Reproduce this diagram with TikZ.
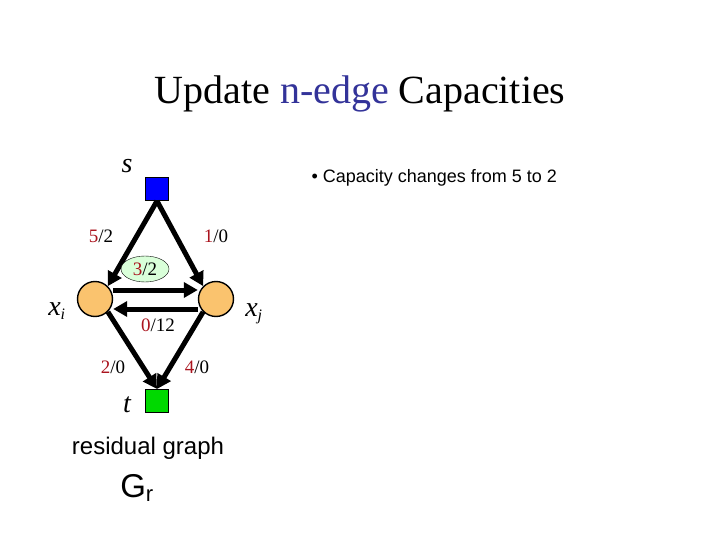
\documentclass[tikz,border=0pt]{standalone}
\usepackage{fontspec}
\setmainfont{Liberation Serif}
\newfontfamily\arial{Liberation Sans}
\usetikzlibrary{arrows.meta,shapes.geometric}
\definecolor{rd}{RGB}{170,20,30}
\definecolor{tb}{RGB}{51,51,153}
\definecolor{orn}{RGB}{250,195,110}
\tikzset{
 edge/.style={line width=5pt,-{Triangle[length=14pt,width=15pt]}},
 lab/.style={font=\fontsize{19}{19}\selectfont},
 vtx/.style={circle,draw,line width=1.4pt,fill=orn,minimum size=35pt,inner sep=0},
 term/.style={rectangle,draw,line width=1pt,minimum size=23pt,inner sep=0},
 var/.style={font=\fontsize{28}{28}\selectfont\itshape}
}
\begin{document}
\begin{tikzpicture}[x=1pt,y=-1pt]
\useasboundingbox (0,0) rectangle (720,540);
\node (title) at (360,94) {\fontsize{40}{40}\selectfont Update \textcolor{tb}{n-edge} Capacities};
\node[anchor=west] (bul) at (308,178) {\arial\fontsize{18}{18}\selectfont • Capacity changes from 5 to 2};
\node[term,fill=blue] (s) at (157,189) {};
\node[term,fill=green!85!black] (t) at (157,401) {};
\node[vtx] (xi) at (95,299) {};
\node[vtx] (xj) at (216,299) {};
\node[var] (sl) at (127,166) {s};
\node[var] (tl) at (127,405) {t};
\node[var] (xil) at (57,311) {x\textsubscript{\fontsize{16}{16}\selectfont i}};
\node[var] (xjl) at (254,314) {x\textsubscript{\fontsize{16}{16}\selectfont j}};
\draw[edge] (s.south) -- (xi.north east);
\draw[edge] (s.south) -- (xj.north west);
\draw[edge] ([yshift=9pt]xi.east) -- ([yshift=9pt]xj.west);
\draw[edge] ([yshift=-10pt]xj.west) -- ([yshift=-10pt]xi.east);
\draw[edge] (xi.south east) -- (t.north);
\draw[edge] (xj.south west) -- (t.north);
\node[lab] (l1) at (101,236) {\textcolor{rd}{5}/2};
\node[lab] (l2) at (216,236) {\textcolor{rd}{1}/0};
\node[lab,ellipse,draw,fill=green!15,inner sep=1pt,minimum width=48pt,minimum height=26pt] (l3) at (145,269) {\textcolor{rd}{3}/2};
\node[lab] (l4) at (158,325) {\textcolor{rd}{0}/12};
\node[lab] (l5) at (113,367) {\textcolor{rd}{2}/0};
\node[lab] (l6) at (197,367) {\textcolor{rd}{4}/0};
\node (rg) at (148,448) {\arial\fontsize{24}{24}\selectfont residual graph};
\node (gr) at (137,488) {\arial\fontsize{33}{33}\selectfont G\textsubscript{\fontsize{22}{22}\selectfont r}};
\end{tikzpicture}
\end{document}
